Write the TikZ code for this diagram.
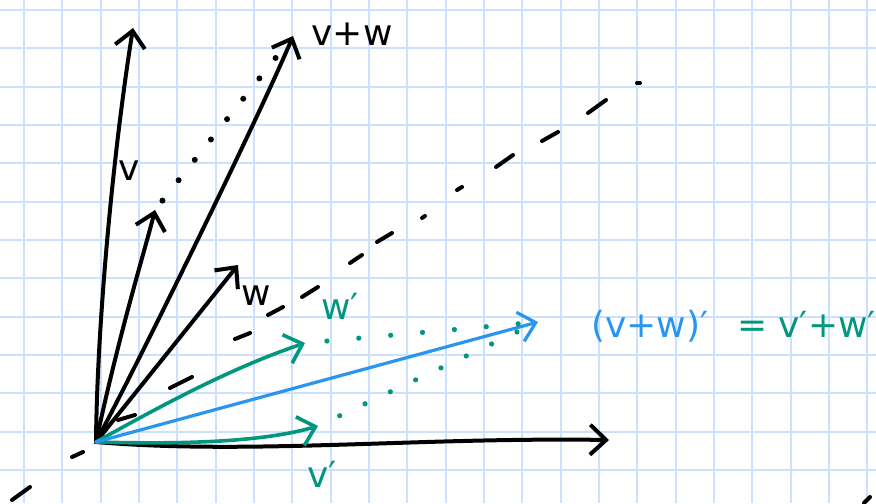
\documentclass[tikz,border=0pt]{standalone}
\usepackage{fontspec}
\setmainfont{DejaVu Sans}
\usepackage{xcolor}
\usetikzlibrary{arrows.meta}
\definecolor{gridblue}{RGB}{204,224,255}
\definecolor{penblue}{RGB}{40,150,240}
\definecolor{penteal}{RGB}{0,150,128}

\begin{document}
\begin{tikzpicture}[
		x=0.5pt, y=-0.5pt,
		font=\fontsize{18}{20}\selectfont,
		gridline/.style={draw=gridblue, line width=1.1pt},
		ink/.style={line width=2pt, line cap=round},
		vec/.style={ink, -{Straight Barb[length=8pt,width=15pt]}},
		dots/.style={line width=3pt, line cap=round, dash pattern=on 0pt off 13pt}
	]
	\useasboundingbox (0,0) rectangle (876,503);
	\clip (0,0) rectangle (876,503);
	\fill[white] (0,0) rectangle (876,503);
	\foreach \gx in {0,...,22}
		\draw[gridline] ({24+38.33*\gx},0) -- ({24+38.33*\gx},503);
	\foreach \gy in {0,...,12}
		\draw[gridline] (0,{10+38.33*\gy}) -- (876,{10+38.33*\gy});
	
	\coordinate (o) at (96,442);
	\coordinate (top) at (133,28);
	\coordinate (v) at (155,210);
	\coordinate (w) at (238,265);
	\coordinate (vw) at (293,36);
	\coordinate (xend) at (609,440);
	\coordinate (vp) at (318,426);
	\coordinate (wp) at (305,343);
	\coordinate (vwp) at (538,322);
	
	\foreach \ax/\ay/\bx/\by in {12/500/30/487, 72/457/83/452, 118/420/135/415, 170/388/192/377,
			235/339/250/333, 268/315/283/307, 302/297/318/287, 350/263/362/255, 377/242/392/233,
			422/218/425/216, 457/190/462/187, 496/167/513/155, 542/141/558/132, 588/113/606/100,
			637/83/640/83, 864/503/870/497}
		\draw[ink] (\ax,\ay) -- (\bx,\by);
	
	\draw[vec] (o) .. controls (97,330) and (112,160) .. (top);
	\draw[vec] (o) .. controls (120,330) and (145,250) .. (v);
	\draw[vec] (o) -- (w);
	\draw[vec] (o) .. controls (150,340) and (262,110) .. (vw);
	\draw[vec] (o) .. controls (250,455) and (420,437) .. (xend);
	\draw[dots, shorten <=6pt, shorten >=7pt] (v) -- (vw);
	
	\draw[vec, penteal, line width=1.8pt] (o) .. controls (180,395) and (240,365) .. (wp);
	\draw[vec, penteal, line width=1.8pt] (o) .. controls (200,445) and (270,440) .. (vp);
	\draw[vec, penblue, line width=1.6pt] (o) -- (vwp);
	\draw[dots, penteal, line width=2.6pt, dash pattern=on 0pt off 16pt, shorten <=11pt, shorten >=6pt] (wp) -- (vwp);
	\draw[dots, penteal, line width=2.6pt, dash pattern=on 0pt off 14pt, shorten <=12pt, shorten >=4pt] (vp) -- (vwp);
	
	\node (lvw) at (352,34) {v+w};
	\node (lv) at (129,171) {v};
	\node (lw) at (256,296) {w};
	\node[text=penteal] (lwp) at (340,306) {w′};
	\node[text=penteal] (lvp) at (322,474) {v′};
	\node[text=penblue, anchor=base west] (lhs) at (584,337) {(v+w)′};
	\node[text=penteal, anchor=base west] (rhs) at (730,337) {= v′+w′};
\end{tikzpicture}
\end{document}
